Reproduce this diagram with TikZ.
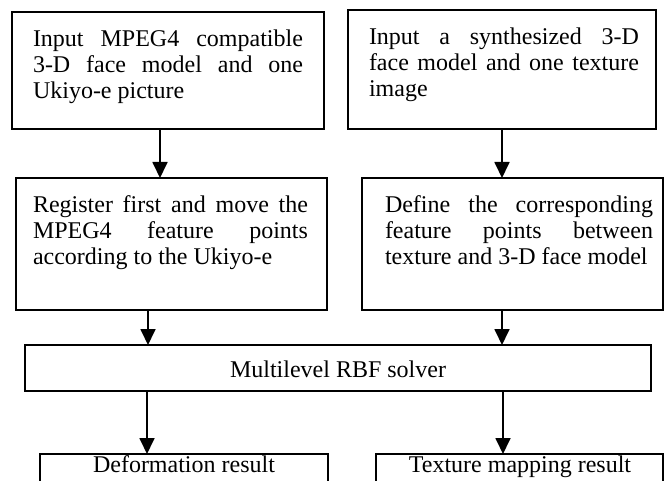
\documentclass[tikz,border=0pt]{standalone}
\usepackage{fontspec}
\setmainfont{Liberation Serif}
\usetikzlibrary{arrows.meta}

% a line set flush to both margins
\newcommand{\fullline}[2]{\makebox[#1][s]{#2}}

\begin{document}
\begin{tikzpicture}[x=1pt,y=-1pt,
  box/.style={draw, line width=1.8pt, inner sep=0pt, outer sep=0pt, anchor=north west},
  txt/.style={inner sep=0pt, outer sep=0pt, anchor=north west, align=left,
              font=\fontsize{24}{26}\selectfont},
  lbl/.style={inner sep=0pt, anchor=base, font=\fontsize{24}{26}\selectfont},
  arr/.style={line width=1.8pt, -{Triangle[width=15pt,length=16pt]}}]

\useasboundingbox (0,0) rectangle (664,481);
\clip (0,0) rectangle (664,481);

% boxes
\node[box, minimum width=312pt, minimum height=117pt] (b1) at (12,12) {};
\node[box, minimum width=308pt, minimum height=119pt] (b2) at (348,10) {};
\node[box, minimum width=311pt, minimum height=132pt] (b3) at (16,178) {};
\node[box, minimum width=301pt, minimum height=132pt] (b4) at (362,178) {};
\node[box, minimum width=626pt, minimum height=46pt] (rbf) at (25,345) {};
\node[box, minimum width=288pt, minimum height=60pt] (b5) at (40,454) {};
\node[box, minimum width=287pt, minimum height=60pt] (b6) at (376,454) {};

% box texts
\node[txt] (t1) at (33,12) {\rule{0pt}{34.7pt}\fullline{270pt}{Input MPEG4 compatible}\\
  \fullline{270pt}{3-D face model and one}\\
  Ukiyo-e picture};
\node[txt] (t2) at (369,10) {\rule{0pt}{35pt}\fullline{270pt}{Input a synthesized 3-D}\\
  \fullline{270pt}{face model and one texture}\\
  image};
\node[txt] (t3) at (33,178) {\rule{0pt}{35pt}\fullline{275pt}{Register first and move the}\\
  \fullline{275pt}{MPEG4 feature points}\\
  according to the Ukiyo-e};
\node[txt] (t4) at (385,178) {\rule{0pt}{35pt}\fullline{268pt}{Define the corresponding}\\
  \fullline{268pt}{feature points between}\\
  texture and 3-D face model};
\node[lbl] (t5) at (338,377) {Multilevel RBF solver};
\node[lbl] (t6) at (184,472) {Deformation result};
\node[lbl] (t7) at (520,472) {Texture mapping result};

% arrow columns
\coordinate (x1) at (160,0);
\coordinate (x2) at (502,0);
\coordinate (x3) at (148,0);
\coordinate (x4) at (147,0);
\coordinate (x5) at (503,0);

% connectors
\draw[arr] (b1.south -| x1) -- (b3.north -| x1);
\draw[arr] (b2.south -| x2) -- (b4.north -| x2);
\draw[arr] (b3.south -| x3) -- (rbf.north -| x3);
\draw[arr] (b4.south -| x2) -- (rbf.north -| x2);
\draw[arr] (rbf.south -| x4) -- (b5.north -| x4);
\draw[arr] (rbf.south -| x5) -- (b6.north -| x5);
\end{tikzpicture}
\end{document}
